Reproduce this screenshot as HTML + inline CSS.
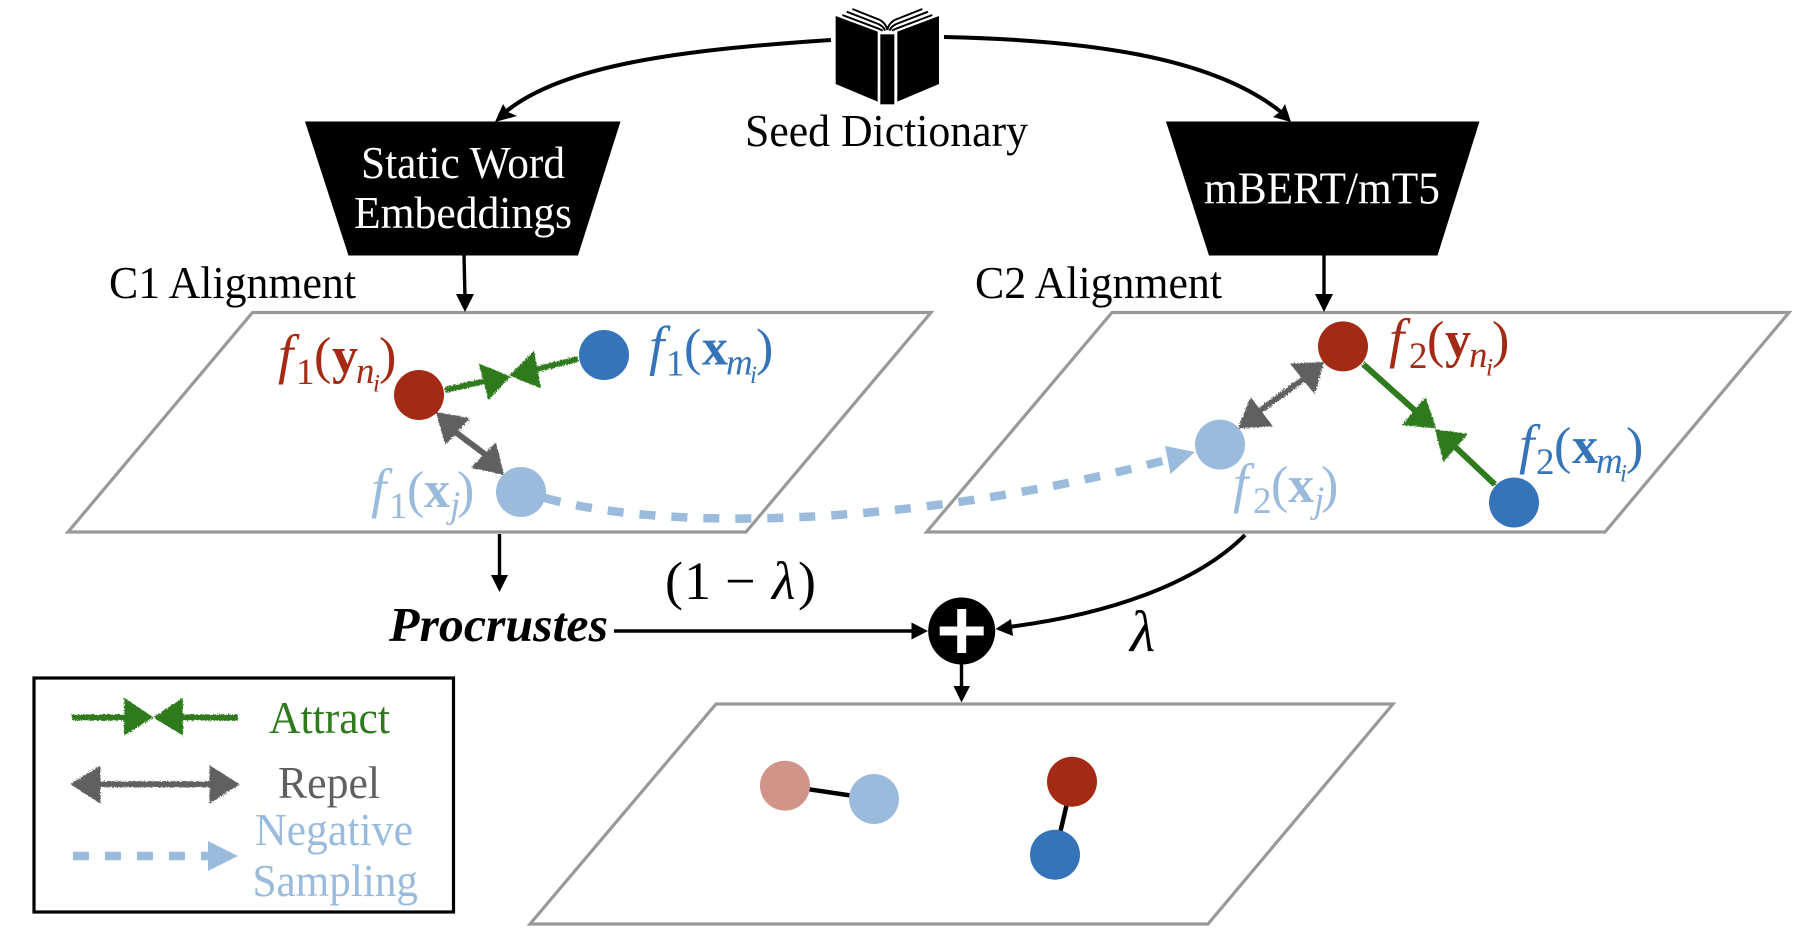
<!DOCTYPE html>
<html>
<head>
<meta charset="utf-8">
<style>
html,body{margin:0;padding:0;background:#fff;width:1795px;height:929px;overflow:hidden}
svg{display:block}
text{font-family:"Liberation Serif",serif}
.m{font-size:52px}
.f{font-size:55px}
.s{font-size:37px}
.ss{font-size:25px}
.i{font-style:italic}
.b{font-weight:bold}
.red{fill:#a32a14}.blue{fill:#3574b8}.light{fill:#9bbbdd}
</style>
</head>
<body>
<svg width="1795" height="929" viewBox="0 0 1795 929" xmlns="http://www.w3.org/2000/svg">
<defs>
<filter id="rough" x="-10%" y="-10%" width="120%" height="120%">
<feTurbulence type="fractalNoise" baseFrequency="0.7" numOctaves="2" seed="3" result="n"/>
<feDisplacementMap in="SourceGraphic" in2="n" scale="4"/>
</filter>
</defs>
<rect width="1795" height="929" fill="#fff"/>

<!-- planes -->
<g fill="none" stroke="#999" stroke-width="3.2">
<polygon points="252.5,312.5 931,312.5 746,532 68,532"/>
<polygon points="1112,312.5 1789,312.5 1605,532 926.6,532"/>
<polygon points="716,704 1393,704 1208,924 530,924"/>
</g>

<!-- book -->
<g transform="translate(800,0) scale(0.3333)">
<polygon points="107,48 233,95 233,305 107,252" fill="#000"/>
<rect x="241" y="103" width="42" height="210" fill="#000"/>
<polygon points="292,95 417,48 417,252 292,305" fill="#000"/>
<g fill="none" stroke="#000" stroke-width="6">
<path d="M127,45 L220,80 Q242,88 248,92"/>
<path d="M140,35 L235,72 Q252,80 255,92"/>
<path d="M157,27 L240,60 Q258,70 262,90"/>
<path d="M397,45 L304,80 Q282,88 276,92"/>
<path d="M384,35 L289,72 Q272,80 269,92"/>
<path d="M367,27 L284,60 Q266,70 262,90"/>
</g>
</g>

<!-- trapezoids -->
<polygon points="305,121.5 620.5,121.5 578,255.5 348.5,255.5" fill="#000"/>
<polygon points="1166,121.5 1479.5,121.5 1437.5,255.5 1209,255.5" fill="#000"/>
<text x="361" y="178" font-size="46" fill="#fff" textLength="204" lengthAdjust="spacingAndGlyphs">Static Word</text>
<text x="354" y="228" font-size="46" fill="#fff" textLength="218" lengthAdjust="spacingAndGlyphs">Embeddings</text>
<text x="1204" y="203.5" font-size="46" fill="#fff" textLength="236" lengthAdjust="spacingAndGlyphs">mBERT/mT5</text>

<text x="745" y="146" font-size="46" fill="#000" textLength="283" lengthAdjust="spacingAndGlyphs">Seed Dictionary</text>
<text x="109" y="298" font-size="46" fill="#000" textLength="247" lengthAdjust="spacingAndGlyphs">C1 Alignment</text>
<text x="975" y="298" font-size="46" fill="#000" textLength="247" lengthAdjust="spacingAndGlyphs">C2 Alignment</text>

<!-- black curves and arrows -->
<g fill="none" stroke="#000" stroke-width="4">
<path d="M831,40 C680,50 560,65 503,114"/>
<path d="M944,37 C1080,40 1210,55 1281,112"/>
<path d="M1245,535 C1195,585 1105,615 1008,627"/>
</g>
<g fill="none" stroke="#000" stroke-width="3.4">
<path d="M464,255 L465,298"/>
<path d="M1324,255 L1324,298"/>
<path d="M499.5,534 L499.5,578"/>
<path d="M614,631 L914,631"/>
<path d="M961.5,664 L961.5,690"/>
</g>
<g fill="#000">
<polygon points="495,122 503,104 508,112 517,116"/>
<polygon points="1291,122 1285,104 1281,111 1273,117"/>
<polygon points="456,294 474,294 465,312"/>
<polygon points="1315,294 1333,294 1324,312"/>
<polygon points="491,575 508,575 499.5,592"/>
<polygon points="911.5,622.5 928,631 911.5,639.5"/>
<polygon points="995.5,629 1011,619 1013,636"/>
<polygon points="953.5,686 970,686 961.5,702.5"/>
</g>

<!-- connector lines for combined plane -->
<g stroke="#000" stroke-width="4.5">
<line x1="785" y1="785.7" x2="874" y2="799"/>
<line x1="1072" y1="781.7" x2="1055" y2="854.7"/>
</g>

<!-- negative sampling dashed -->
<path d="M545,498 C660,530 900,530 1168,459.5" fill="none" stroke="#9bbbdd" stroke-width="8.5" stroke-dasharray="16 16"/>
<polygon points="1165,446 1195,452 1170.5,474" fill="#9bbbdd"/>

<!-- attract / repel arrows -->
<g filter="url(#rough)">
<g fill="#2f7a1e" stroke="#2f7a1e">
<line x1="445" y1="390" x2="490" y2="380" stroke-width="6"/>
<polygon points="481,366 508,377 489,397" stroke-width="3"/>
<line x1="578" y1="359" x2="530" y2="371" stroke-width="6"/>
<polygon points="533,354 512,375 539,386" stroke-width="3"/>
<line x1="1363" y1="364" x2="1420" y2="415" stroke-width="6"/>
<polygon points="1425,400 1434,426.5 1405,424" stroke-width="3"/>
<line x1="1495" y1="484.6" x2="1450" y2="442" stroke-width="6"/>
<polygon points="1465,435 1437,431 1444,459" stroke-width="3"/>
<line x1="72" y1="717.5" x2="130" y2="717.5" stroke-width="6"/>
<polygon points="125.6,700.5 151,717.5 125.6,733" stroke-width="3"/>
<line x1="238" y1="717.5" x2="180" y2="717.5" stroke-width="6"/>
<polygon points="181.5,700.5 156,717.5 181.5,733" stroke-width="3"/>
</g>
<g fill="#606060" stroke="#606060">
<line x1="450" y1="428" x2="490" y2="458" stroke-width="6"/>
<polygon points="438,414 467,419 446,442" stroke-width="3"/>
<polygon points="502,473 495,445 474,467" stroke-width="3"/>
<line x1="1305" y1="378" x2="1258" y2="412" stroke-width="6"/>
<polygon points="1322,363.5 1293,365 1314,391" stroke-width="3"/>
<polygon points="1240,427 1251,400 1270,425" stroke-width="3"/>
<line x1="90" y1="784.3" x2="220" y2="784.3" stroke-width="6"/>
<polygon points="73,784.3 99,768 99,801" stroke-width="3"/>
<polygon points="237,784.3 211,768 211,801" stroke-width="3"/>
</g>
</g>

<!-- circles -->
<circle cx="419" cy="395" r="25" fill="#a32a14"/>
<circle cx="604" cy="355" r="25" fill="#3574b8"/>
<circle cx="521" cy="492" r="25" fill="#9bbbdd"/>
<circle cx="1343" cy="346.4" r="25" fill="#a32a14"/>
<circle cx="1220" cy="444.6" r="25" fill="#9bbbdd"/>
<circle cx="1514" cy="502.5" r="25" fill="#3574b8"/>
<circle cx="785" cy="785.7" r="25" fill="#d09488"/>
<circle cx="874" cy="799" r="25" fill="#9bbbdd"/>
<circle cx="1072" cy="781.7" r="25" fill="#a32a14"/>
<circle cx="1055" cy="854.7" r="25" fill="#3574b8"/>

<!-- plus -->
<circle cx="961.7" cy="631" r="33.5" fill="#000"/>
<rect x="939.7" y="626.5" width="44" height="9" fill="#fff"/>
<rect x="957.2" y="609" width="9" height="44" fill="#fff"/>

<!-- math labels -->
<g transform="translate(275,373)" class="red"><text><tspan class="f i" x="3" y="0">f</tspan><tspan class="s" x="21" y="11">1</tspan><tspan class="m" x="39" y="0">(</tspan><tspan class="m b" x="57" y="0">y</tspan><tspan class="s i" x="81" y="10">n</tspan><tspan class="ss i" x="98" y="18.5">i</tspan><tspan class="m" x="104" y="0">)</tspan></text></g>
<g transform="translate(646,364.5)" class="blue"><text><tspan class="f i" x="3" y="0">f</tspan><tspan class="s" x="20" y="11">1</tspan><tspan class="m" x="38" y="0">(</tspan><tspan class="m b" x="56" y="0">x</tspan><tspan class="s i" x="80" y="10">m</tspan><tspan class="ss i" x="104" y="18.5">i</tspan><tspan class="m" x="110" y="0">)</tspan></text></g>
<g transform="translate(368,507)" class="light"><text><tspan class="f i" x="3" y="0">f</tspan><tspan class="s" x="21" y="11">1</tspan><tspan class="m" x="39" y="0">(</tspan><tspan class="m b" x="56" y="0">x</tspan><tspan class="s i" x="82" y="10">j</tspan><tspan class="m" x="89" y="0">)</tspan></text></g>
<g transform="translate(1386,357)" class="red"><text><tspan class="f i" x="3" y="0">f</tspan><tspan class="s" x="23" y="11">2</tspan><tspan class="m" x="41" y="0">(</tspan><tspan class="m b" x="59" y="0">y</tspan><tspan class="s i" x="83" y="10">n</tspan><tspan class="ss i" x="100" y="18.5">i</tspan><tspan class="m" x="106" y="0">)</tspan></text></g>
<g transform="translate(1516,463)" class="blue"><text><tspan class="f i" x="3" y="0">f</tspan><tspan class="s" x="20" y="11">2</tspan><tspan class="m" x="38" y="0">(</tspan><tspan class="m b" x="56" y="0">x</tspan><tspan class="s i" x="80" y="10">m</tspan><tspan class="ss i" x="104" y="18.5">i</tspan><tspan class="m" x="110" y="0">)</tspan></text></g>
<g transform="translate(1230,502)" class="light"><text><tspan class="f i" x="3" y="0">f</tspan><tspan class="s" x="23" y="11">2</tspan><tspan class="m" x="41" y="0">(</tspan><tspan class="m b" x="58" y="0">x</tspan><tspan class="s i" x="84" y="10">j</tspan><tspan class="m" x="91" y="0">)</tspan></text></g>

<!-- center labels -->
<text x="389" y="641" font-size="49" font-weight="bold" font-style="italic" fill="#000" textLength="219" lengthAdjust="spacingAndGlyphs">Procrustes</text>
<text y="599" font-size="54" fill="#000"><tspan x="665">(</tspan><tspan x="684">1</tspan><tspan x="725">−</tspan><tspan x="772" font-style="italic">λ</tspan><tspan x="798">)</tspan></text>
<text x="1130" y="651" font-size="58" font-style="italic" fill="#000">λ</text>

<!-- legend -->
<rect x="34" y="678" width="419.5" height="234" fill="none" stroke="#000" stroke-width="3.2"/>
<text x="269" y="733" font-size="46" fill="#2f7a1e" textLength="121" lengthAdjust="spacingAndGlyphs">Attract</text>
<text x="278" y="798" font-size="46" fill="#606060" textLength="102" lengthAdjust="spacingAndGlyphs">Repel</text>
<text x="255" y="845" font-size="46" fill="#9bbbdd" textLength="158" lengthAdjust="spacingAndGlyphs">Negative</text>
<text x="252.5" y="896" font-size="46" fill="#9bbbdd" textLength="165.5" lengthAdjust="spacingAndGlyphs">Sampling</text>
<line x1="73" y1="856" x2="208" y2="856" stroke="#9bbbdd" stroke-width="8.5" stroke-dasharray="16 16"/>
<polygon points="208,841 238,856 208,871" fill="#9bbbdd"/>
</svg>
</body>
</html>
